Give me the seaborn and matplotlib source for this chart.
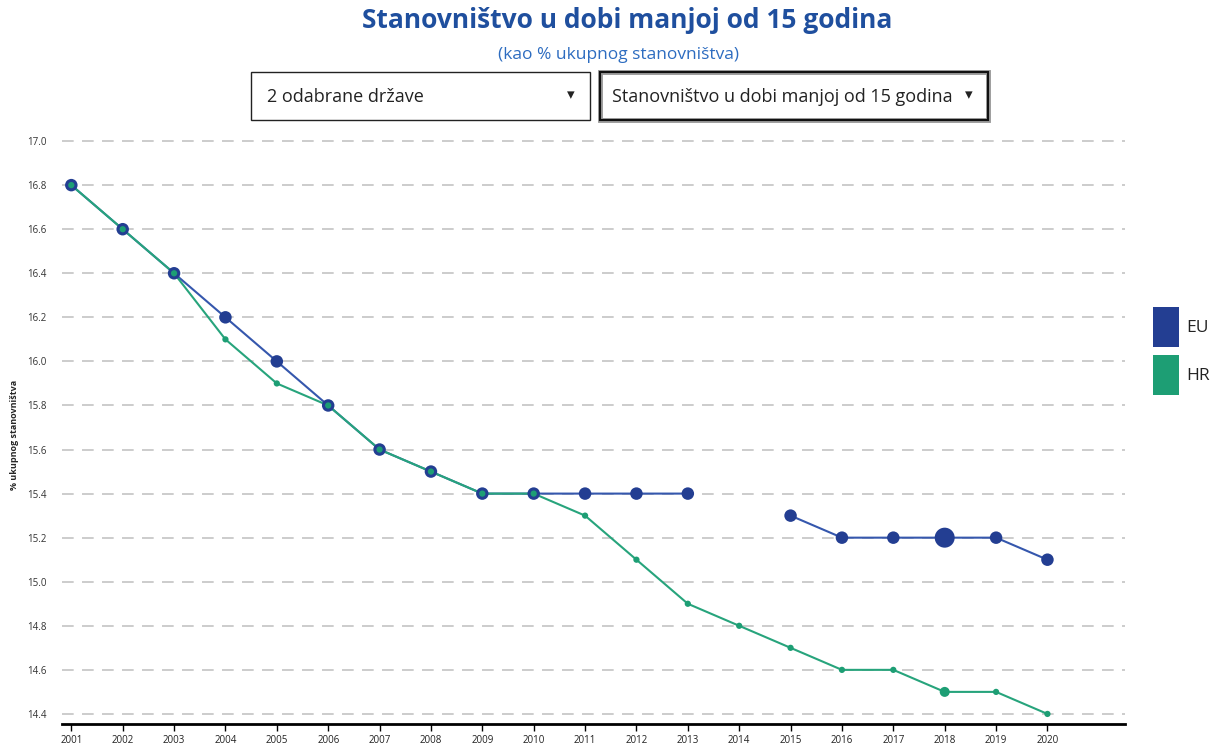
import numpy as np
import pandas as pd
import matplotlib
matplotlib.use("Agg")
import matplotlib.pyplot as plt
from matplotlib.patches import Rectangle
import seaborn as sns

# ---------------------------------------------------------------------------
# Data (% of total population aged under 15)
# ---------------------------------------------------------------------------
YEARS = list(range(2001, 2021))
EU = [16.8, 16.6, 16.4, 16.2, 16.0, 15.8, 15.6, 15.5, 15.4, 15.4,
      15.4, 15.4, 15.4, np.nan, 15.3, 15.2, 15.2, 15.2, 15.2, 15.1]
HR = [16.8, 16.6, 16.4, 16.1, 15.9, 15.8, 15.6, 15.5, 15.4, 15.4,
      15.3, 15.1, 14.9, 14.8, 14.7, 14.6, 14.6, 14.5, 14.5, 14.4]
SERIES = ["EU", "HR"]
HIGHLIGHT_YEAR = 2018
Y_TICKS = [14.4, 14.6, 14.8, 15.0, 15.2, 15.4, 15.6, 15.8, 16.0, 16.2,
           16.4, 16.6, 16.8, 17.0]

TITLE = "Stanovništvo u dobi manjoj od 15 godina"
SUBTITLE = "(kao % ukupnog stanovništva)"
DROPDOWN_1 = "2 odabrane države"
DROPDOWN_2 = "Stanovništvo u dobi manjoj od 15 godina"
Y_LABEL = "% ukupnog stanovništva"

COLORS = {"EU": "#233e92", "HR": "#1d9e74"}
LINE_COLORS = {"EU": "#3557ad", "HR": "#27a47c"}
MARKER_SIZE = {"EU": 9, "HR": 4.5}
TITLE_BLUE = "#1f4f9e"
SUB_BLUE = "#2d6cc0"

# long-form table; a segment id breaks the line at missing years
frames = []
for name, vals in zip(SERIES, [EU, HR]):
    d = pd.DataFrame({"year": YEARS, "value": vals, "series": name})
    d["segment"] = d["value"].isna().cumsum()
    frames.append(d.dropna())
df = pd.concat(frames, ignore_index=True)

sns.set_theme(style="white")
plt.rcParams["font.family"] = ["Open Sans", "DejaVu Sans"]

fig = plt.figure(figsize=(12.17, 7.47), dpi=100)
ax = fig.add_axes([0.051, 0.031, 0.873, 0.789])

for name in SERIES:
    sub = df[df["series"] == name]
    sns.lineplot(data=sub, x="year", y="value", units="segment",
                 estimator=None, color=LINE_COLORS[name], lw=1.5, ax=ax,
                 legend=False)
    sizes = np.where(sub["year"] == HIGHLIGHT_YEAR,
                     MARKER_SIZE[name] * 1.6, MARKER_SIZE[name]) ** 2
    sns.scatterplot(x=sub["year"], y=sub["value"], s=sizes,
                    color=COLORS[name], edgecolor="none", ax=ax,
                    legend=False, zorder=3 + SERIES.index(name))

ax.set_xlim(2000.82, 2021.5)
ax.set_ylim(14.355, 17.03)
ax.set_yticks(Y_TICKS)
ax.set_yticklabels([f"{v:.1f}" for v in Y_TICKS], fontsize=7, color="#333333")
ax.set_xticks(YEARS)
ax.set_xticklabels([str(y) for y in YEARS], fontsize=7, color="#222222")
ax.tick_params(axis="x", length=5, width=1, color="black", pad=3,
               bottom=True)
ax.tick_params(axis="y", length=0, pad=11)
ax.set_xlabel("")
ax.set_ylabel(Y_LABEL, fontsize=6.5, fontweight="bold")
ax.yaxis.set_label_coords(-0.041, 0.49)

for v in Y_TICKS:
    ax.axhline(v, color="#c4c4c4", lw=1.2, ls=(0, (7, 5)), zorder=0)

for s in ["top", "right", "left"]:
    ax.spines[s].set_visible(False)
ax.spines["bottom"].set_color("black")
ax.spines["bottom"].set_linewidth(2)

# title block
fig.text(0.515, 0.972, TITLE, ha="center", va="center", fontsize=19,
         fontweight="bold", color=TITLE_BLUE)
fig.text(0.508, 0.926, SUBTITLE, ha="center", va="center", fontsize=12.5,
         color=SUB_BLUE)


def px(x, y):
    return x / 1217, 1 - y / 747


# dropdown boxes
x0, y0 = px(251, 120)
x1, y1 = px(590, 72)
fig.patches.append(Rectangle((x0, y0), x1 - x0, y1 - y0, transform=fig.transFigure,
                             fill=False, ec="#222222", lw=1))
fig.text(*px(267, 97), DROPDOWN_1, ha="left", va="center",
         fontsize=13, color="#222222")
fig.text(*px(571, 95), "▾", ha="center", va="center",
         fontsize=11, color="#222222", family=["DejaVu Sans"])

x0, y0 = px(600, 120)
x1, y1 = px(988, 72)
fig.patches.append(Rectangle((x0, y0), x1 - x0, y1 - y0, transform=fig.transFigure,
                             fill=False, ec="#999999", lw=3.5))
fig.patches.append(Rectangle((x0, y0), x1 - x0, y1 - y0, transform=fig.transFigure,
                             fill=False, ec="#111111", lw=1.5))
fig.text(*px(612, 97), DROPDOWN_2, ha="left", va="center",
         fontsize=13, color="#222222")
fig.text(*px(969, 95), "▾", ha="center", va="center",
         fontsize=11, color="#222222", family=["DejaVu Sans"])

# legend
for i, name in enumerate(SERIES):
    top = 307 + i * 48
    lx, ly = px(1153, top + 40)
    fig.patches.append(Rectangle((lx, ly), 26 / 1217, 40 / 747,
                                 transform=fig.transFigure,
                                 fc=COLORS[name], ec="none"))
    fig.text(*px(1186, top + 21), name, ha="left", va="center",
             fontsize=12.5, color="#222222")

fig.savefig("out.png", dpi=100)
